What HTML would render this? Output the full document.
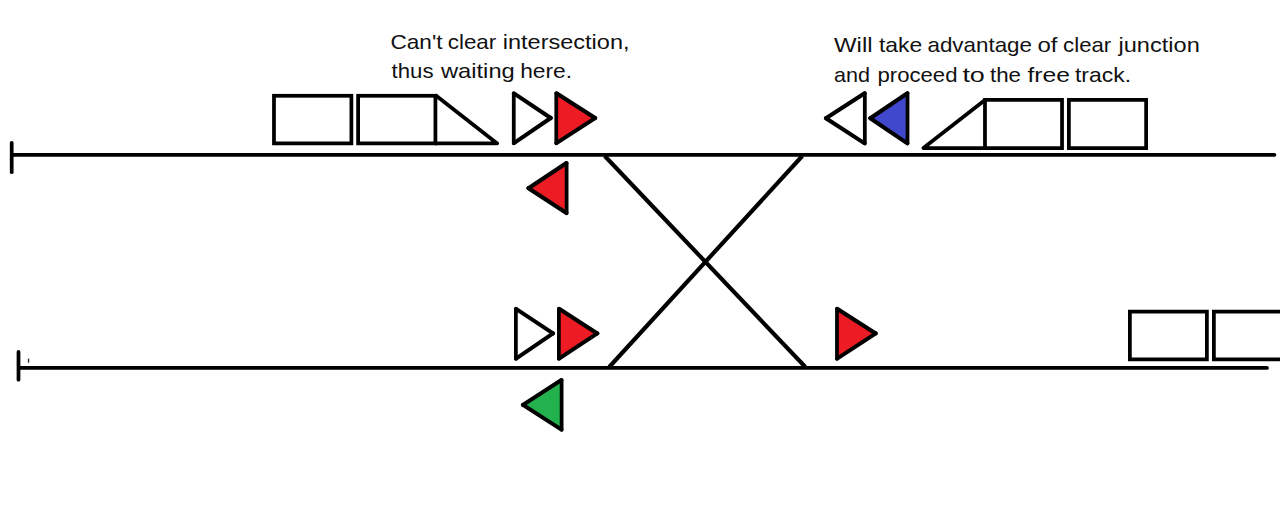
<!DOCTYPE html>
<html lang="en">
<head>
<meta charset="utf-8">
<title>Signals at a crossing junction</title>
<style>
html,body{margin:0;padding:0;background:#fff;overflow:hidden}
svg{display:block}
text{font-family:"Liberation Sans",sans-serif;font-size:20.4px;fill:#111}
</style>
</head>
<body>
<svg width="1280" height="525" viewBox="0 0 1280 525">
<rect x="0" y="0" width="1280" height="525" fill="#ffffff"/>
<g stroke="#000" fill="none">
<line x1="11.70" y1="142.80" x2="11.70" y2="172.20" stroke-width="3.75" stroke-linecap="round"/>
<line x1="12.50" y1="154.85" x2="1274.40" y2="154.85" stroke-width="3.9" stroke-linecap="round"/>
<line x1="18.50" y1="351.80" x2="18.50" y2="379.70" stroke-width="3.75" stroke-linecap="round"/>
<line x1="19.30" y1="367.90" x2="1266.90" y2="367.90" stroke-width="3.9" stroke-linecap="round"/>
<rect x="27.9" y="358.6" width="1.3" height="4" fill="#222" stroke="none"/>
<line x1="604.75" y1="156.00" x2="805.35" y2="367.00" stroke-width="4.15" stroke-linecap="butt"/>
<line x1="802.28" y1="156.00" x2="609.22" y2="367.00" stroke-width="4.15" stroke-linecap="butt"/>
<rect x="273.98" y="95.78" width="77.40" height="47.60" fill="none" stroke-width="3.75"/>
<rect x="358.12" y="95.78" width="77.30" height="47.60" fill="none" stroke-width="3.75"/>
<polyline points="436.2,95.75 497.2,143.4 435.5,143.4" fill="none" stroke-width="3.75" stroke-linejoin="round" stroke-linecap="round"/>
<rect x="984.98" y="99.88" width="77.05" height="48.25" fill="none" stroke-width="3.75"/>
<rect x="1068.88" y="99.88" width="77.25" height="48.25" fill="none" stroke-width="3.75"/>
<polyline points="985,99.9 923.4,148.1 985,148.1" fill="none" stroke-width="3.75" stroke-linejoin="round" stroke-linecap="round"/>
<rect x="1129.88" y="311.62" width="77.00" height="47.75" fill="none" stroke-width="3.75"/>
<rect x="1213.88" y="311.62" width="76.25" height="47.75" fill="none" stroke-width="3.75"/>
<polygon points="513.77,93.35 513.77,143.15 550.75,118.00" fill="#ffffff" stroke="none"/>
<line x1="513.95" y1="93.35" x2="550.75" y2="118.00" stroke-width="4.1" stroke-linecap="round"/>
<line x1="513.95" y1="143.15" x2="550.75" y2="118.00" stroke-width="4.1" stroke-linecap="round"/>
<line x1="513.77" y1="93.35" x2="513.77" y2="143.15" stroke-width="3.75" stroke-linecap="round"/>
<polygon points="556.27,93.35 556.27,143.15 595.15,118.10" fill="#ed1c24" stroke="none"/>
<line x1="556.45" y1="93.35" x2="595.15" y2="118.10" stroke-width="4.1" stroke-linecap="round"/>
<line x1="556.45" y1="143.15" x2="595.15" y2="118.10" stroke-width="4.1" stroke-linecap="round"/>
<line x1="556.27" y1="93.35" x2="556.27" y2="143.15" stroke-width="3.75" stroke-linecap="round"/>
<polygon points="566.62,163.05 566.62,213.05 528.45,188.20" fill="#ed1c24" stroke="none"/>
<line x1="566.45" y1="163.05" x2="528.45" y2="188.20" stroke-width="4.1" stroke-linecap="round"/>
<line x1="566.45" y1="213.05" x2="528.45" y2="188.20" stroke-width="4.1" stroke-linecap="round"/>
<line x1="566.62" y1="163.05" x2="566.62" y2="213.05" stroke-width="3.75" stroke-linecap="round"/>
<polygon points="515.88,308.85 515.88,358.65 553.05,333.40" fill="#ffffff" stroke="none"/>
<line x1="516.05" y1="308.85" x2="553.05" y2="333.40" stroke-width="4.1" stroke-linecap="round"/>
<line x1="516.05" y1="358.65" x2="553.05" y2="333.40" stroke-width="4.1" stroke-linecap="round"/>
<line x1="515.88" y1="308.85" x2="515.88" y2="358.65" stroke-width="3.75" stroke-linecap="round"/>
<polygon points="558.88,308.85 558.88,358.65 597.35,333.40" fill="#ed1c24" stroke="none"/>
<line x1="559.05" y1="308.85" x2="597.35" y2="333.40" stroke-width="4.1" stroke-linecap="round"/>
<line x1="559.05" y1="358.65" x2="597.35" y2="333.40" stroke-width="4.1" stroke-linecap="round"/>
<line x1="558.88" y1="308.85" x2="558.88" y2="358.65" stroke-width="3.75" stroke-linecap="round"/>
<polygon points="561.62,380.05 561.62,429.65 522.95,404.90" fill="#22b14c" stroke="none"/>
<line x1="561.45" y1="380.05" x2="522.95" y2="404.90" stroke-width="4.1" stroke-linecap="round"/>
<line x1="561.45" y1="429.65" x2="522.95" y2="404.90" stroke-width="4.1" stroke-linecap="round"/>
<line x1="561.62" y1="380.05" x2="561.62" y2="429.65" stroke-width="3.75" stroke-linecap="round"/>
<polygon points="836.98,308.85 836.98,358.65 875.75,333.40" fill="#ed1c24" stroke="none"/>
<line x1="837.15" y1="308.85" x2="875.75" y2="333.40" stroke-width="4.1" stroke-linecap="round"/>
<line x1="837.15" y1="358.65" x2="875.75" y2="333.40" stroke-width="4.1" stroke-linecap="round"/>
<line x1="836.98" y1="308.85" x2="836.98" y2="358.65" stroke-width="3.75" stroke-linecap="round"/>
<polygon points="864.83,93.25 864.83,143.35 825.95,118.20" fill="#ffffff" stroke="none"/>
<line x1="864.65" y1="93.25" x2="825.95" y2="118.20" stroke-width="4.1" stroke-linecap="round"/>
<line x1="864.65" y1="143.35" x2="825.95" y2="118.20" stroke-width="4.1" stroke-linecap="round"/>
<line x1="864.83" y1="93.25" x2="864.83" y2="143.35" stroke-width="3.75" stroke-linecap="round"/>
<polygon points="907.52,93.25 907.52,143.35 870.25,118.20" fill="#3f48cc" stroke="none"/>
<line x1="907.35" y1="93.25" x2="870.25" y2="118.20" stroke-width="4.1" stroke-linecap="round"/>
<line x1="907.35" y1="143.35" x2="870.25" y2="118.20" stroke-width="4.1" stroke-linecap="round"/>
<line x1="907.52" y1="93.25" x2="907.52" y2="143.35" stroke-width="3.75" stroke-linecap="round"/>
</g>
<g>
<text x="390.47" y="48.60" textLength="52.04" lengthAdjust="spacingAndGlyphs">Can't</text>
<text x="447.74" y="48.60" textLength="48.52" lengthAdjust="spacingAndGlyphs">clear</text>
<text x="502.72" y="48.60" textLength="126.82" lengthAdjust="spacingAndGlyphs">intersection,</text>
<text x="391.50" y="78.10" textLength="42.00" lengthAdjust="spacingAndGlyphs">thus</text>
<text x="440.99" y="78.10" textLength="73.77" lengthAdjust="spacingAndGlyphs">waiting</text>
<text x="520.19" y="78.10" textLength="51.94" lengthAdjust="spacingAndGlyphs">here.</text>
<text x="833.97" y="52.40" textLength="38.56" lengthAdjust="spacingAndGlyphs">Will</text>
<text x="878.97" y="52.40" textLength="43.30" lengthAdjust="spacingAndGlyphs">take</text>
<text x="927.49" y="52.40" textLength="104.53" lengthAdjust="spacingAndGlyphs">advantage</text>
<text x="1037.50" y="52.40" textLength="20.00" lengthAdjust="spacingAndGlyphs">of</text>
<text x="1063.14" y="52.40" textLength="48.15" lengthAdjust="spacingAndGlyphs">clear</text>
<text x="1118.50" y="52.40" textLength="81.25" lengthAdjust="spacingAndGlyphs">junction</text>
<text x="833.98" y="81.60" textLength="36.03" lengthAdjust="spacingAndGlyphs">and</text>
<text x="877.48" y="81.60" textLength="80.04" lengthAdjust="spacingAndGlyphs">proceed</text>
<text x="962.40" y="81.60" textLength="22.46" lengthAdjust="spacingAndGlyphs">to</text>
<text x="990.00" y="81.60" textLength="31.02" lengthAdjust="spacingAndGlyphs">the</text>
<text x="1027.48" y="81.60" textLength="42.55" lengthAdjust="spacingAndGlyphs">free</text>
<text x="1075.00" y="81.60" textLength="56.05" lengthAdjust="spacingAndGlyphs">track.</text>
</g>
</svg>
</body>
</html>
